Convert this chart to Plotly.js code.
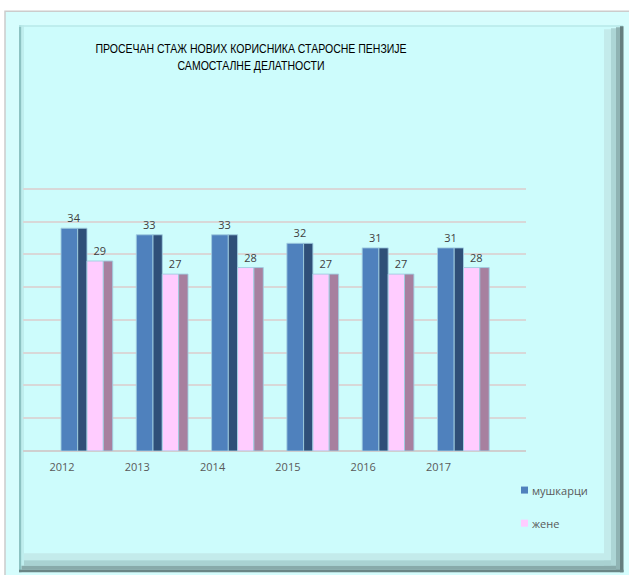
<!DOCTYPE html>
<html>
<head>
<meta charset="utf-8">
<script src="https://cdn.plot.ly/plotly-3.0.1.min.js"></script>
<style>html,body{margin:0;padding:0;background:#fff;}#chart{width:629px;height:575px;}</style>
</head>
<body>
<div id="chart"></div>
<script>
// ---- data ----
const years = ['2012', '2013', '2014', '2015', '2016', '2017'];
const men = [34, 33, 33, 31.7, 31, 31];
const women = [29, 27, 28, 27, 27, 28];
const seriesNames = ['мушкарци', 'жене'];
const titleLines = ['ПРОСЕЧАН СТАЖ НОВИХ КОРИСНИКА СТАРОСНЕ ПЕНЗИЈЕ', 'САМОСТАЛНЕ ДЕЛАТНОСТИ'];

// ---- geometry helpers (pixels -> paper) ----
const W = 629, H = 575;
const YMAX = 40.6;
const L = 23, R = 526, B = 451;
const T = B - (B - 189.4) * YMAX / 40;
const px = x => (x - L) / (R - L);
const py = y => (B - y) / (B - T);
const U = 75.3;      // px per category
const C0 = 62;       // px of first category centre (tick label position)

const colors = {
  menFront: '#4f81bd', menSide: '#2f4f78',
  womenFront: '#ffccff', womenSide: '#a7809f'
};
const outline = {color: 'rgba(160,205,225,0.9)', width: 1};

function barTrace(y, offPx, widPx, color, extra) {
  return Object.assign({
    type: 'bar', x: years, y: y,
    offset: offPx / U, width: widPx / U,
    marker: {color: color, line: outline},
    showlegend: false, hoverinfo: 'skip'
  }, extra || {});
}
const labelExtra = {
  texttemplate: '%{y:.0f}', textposition: 'outside', cliponaxis: false,
  textfont: {family: 'Open Sans, sans-serif', size: 11, color: '#404040'},
  marker: {color: 'rgba(0,0,0,0)', line: {width: 0}}
};

const data = [
  barTrace(men, -1, 16.7, colors.menFront),
  barTrace(men, 15.7, 9.3, colors.menSide),
  barTrace(women, 25, 16.3, colors.womenFront),
  barTrace(women, 41.3, 9.4, colors.womenSide),
  barTrace(men, -1, 26, 'rgba(0,0,0,0)', labelExtra),
  barTrace(women, 25, 25.7, 'rgba(0,0,0,0)', labelExtra)
];

// ---- frame shapes ----
function rect(x0, y0, x1, y1, fill, line) {
  return {type: 'rect', xref: 'paper', yref: 'paper', layer: 'below',
    x0: px(x0), x1: px(x1), y0: py(y1), y1: py(y0),
    fillcolor: fill, line: line || {width: 0}};
}
const shapes = [
  rect(5, 12, 660, 620, '#d6fdfd', {color: '#cccccc', width: 1.5}),
  rect(19, 26, 623.5, 572, '#cdfcfc', {width: 0}),
  // bevel: top/left light edges
  rect(19, 26, 21.5, 572, '#8cc2c2'),
  rect(21.5, 26, 24, 569, '#bfeeee'),
  rect(19, 26, 623, 27.5, '#b8e8e8'),
  // right bevel
  rect(604, 30, 611, 566, '#c3ebeb'),
  rect(611, 29, 616, 568, '#add6d6'),
  rect(616, 28, 620, 570, '#90b4b4'),
  rect(620, 27, 623.5, 572, '#647e7e'),
  // bottom bevel
  rect(24, 553, 604, 560, '#c3ebeb'),
  rect(24, 560, 611, 565.5, '#a9d2d2'),
  rect(21.5, 565.5, 616, 569.5, '#88aaaa'),
  rect(19, 569.5, 623.5, 572, '#6a8585')
];

// ---- custom legend (built from series names) ----
const legendColors = [colors.menFront, colors.womenFront];
const legendY = [490, 523];
const annotations = [];
seriesNames.forEach((name, i) => {
  shapes.push({type: 'rect', xref: 'paper', yref: 'paper',
    x0: px(521), x1: px(528), y0: py(legendY[i] + 3.5), y1: py(legendY[i] - 3.5),
    fillcolor: legendColors[i], line: {width: 0}});
  annotations.push({xref: 'paper', yref: 'paper', x: px(530), y: py(legendY[i]),
    xanchor: 'left', yanchor: 'middle', showarrow: false, text: name,
    font: {family: 'Open Sans, sans-serif', size: 11, color: '#595959'}});
});

const TITLE_CX = 251;
const layout = {
  width: W, height: H,
  margin: {l: L, r: W - R, t: T, b: H - B, pad: 0},
  paper_bgcolor: '#ffffff',
  plot_bgcolor: 'rgba(0,0,0,0)',
  barmode: 'overlay',
  title: {
    text: titleLines.join('<br>'),
    x: TITLE_CX / W, xref: 'container', xanchor: 'center',
    y: 1 - 53 / H, yref: 'container', yanchor: 'top',
    font: {family: 'Liberation Sans, Arial, sans-serif', size: 13, color: '#000000'}
  },
  xaxis: {
    type: 'category', range: [(L - C0) / U, (R - C0) / U],
    showgrid: false, showline: false, zeroline: false, ticks: '',
    ticklabelstandoff: 8,
    tickfont: {family: 'Open Sans, sans-serif', size: 11, color: '#595959'}
  },
  yaxis: {
    range: [0, YMAX], dtick: 5, tick0: 0, showticklabels: false, ticks: '',
    showgrid: true, gridcolor: '#d8d8d8', gridwidth: 2,
    zeroline: true, zerolinecolor: '#cfcfcf', zerolinewidth: 2, showline: false
  },
  shapes: shapes,
  annotations: annotations,
  showlegend: false
};

Plotly.newPlot('chart', data, layout, {displayModeBar: false, staticPlot: true}).then(() => {
  // condense the title horizontally (the original uses a narrow typeface)
  const t = document.querySelector('#chart .gtitle');
  if (t) t.setAttribute('transform', `translate(${TITLE_CX},0) scale(0.81,1) translate(${-TITLE_CX},0)`);
});
</script>
</body>
</html>
